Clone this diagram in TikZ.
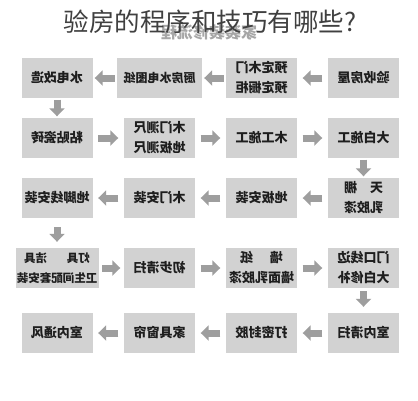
\documentclass[tikz,border=0pt]{standalone}
\usepackage{fontspec}
\setmainfont{Noto Sans CJK SC}
\usetikzlibrary{arrows.meta}
\definecolor{boxgray}{HTML}{D2D2D2}
\definecolor{arrowgray}{HTML}{9E9E9E}
\definecolor{textgray}{HTML}{1E1E1E}
\newcommand{\mir}[1]{\reflectbox{\begin{tabular}{@{}c@{}}#1\end{tabular}}}

\begin{document}
\begin{tikzpicture}[x=1pt,y=-1pt,
  box/.style={fill=boxgray,minimum width=71pt,minimum height=40pt,inner sep=0pt,text=textgray,font=\bfseries\fontsize{13}{20}\selectfont},
  flow/.style={draw=arrowgray,line width=7pt,-{Triangle[width=15pt,length=8pt]},shorten <=5.5pt,shorten >=5.5pt}]
\fill[white](0,0)rectangle(418,400);
\useasboundingbox(0,0)rectangle(418,400);
\node[font=\bfseries\fontsize{16}{16}\selectfont,text=gray!70](mark)at(209,32){\reflectbox{家装装修流程}};
\node[font=\fontsize{25.5}{26}\selectfont,text=black!75](title)at(210,22){验房的程序和技巧有哪些?};
% row 1
\node[box](a1)at(57,78){\mir{水电改造}};
\node[box,minimum width=85pt,font=\bfseries\fontsize{12}{20}\selectfont](a2)at(159.5,78){\mir{厨房水电图纸}};
\node[box](a3)at(261.5,78){\mir{预定木门\\预定橱柜}};
\node[box](a4)at(363.5,78){\mir{验收房屋}};
% row 2
\node[box](b1)at(57,138){\mir{粘贴瓷砖}};
\node[box](b2)at(159.5,138){\mir{木门测尺\\地板测尺}};
\node[box](b3)at(261.5,138){\mir{木工施工}};
\node[box](b4)at(363.5,138){\mir{大白施工}};
% row 3
\node[box](c1)at(57,198){\mir{地脚线安装}};
\node[box](c2)at(159.5,198){\mir{木门安装}};
\node[box](c3)at(261.5,198){\mir{地板安装}};
\node[box](c4)at(363.5,198){\mir{天\hspace{1em}棚\\乳胶漆}};
% row 4
\node[box,minimum width=83pt,font=\bfseries\fontsize{11.5}{20}\selectfont](d1)at(57,268){\mir{灯具\hspace{1.7em}洁具\\卫生间配套安装}};
\node[box](d2)at(159.5,268){\mir{初步清扫}};
\node[box](d3)at(261.5,268){\mir{墙\hspace{1.3em}纸\\墙面乳胶漆}};
\node[box](d4)at(363.5,268){\mir{门口线边\\大白修补}};
% row 5
\node[box](e1)at(57,333){\mir{室内通风}};
\node[box](e2)at(159.5,333){\mir{家具窗帘}};
\node[box](e3)at(261.5,333){\mir{打密封胶}};
\node[box](e4)at(363.5,333){\mir{室内清扫}};
% arrows
\draw[flow](a4)--(a3);
\draw[flow,shorten <=2pt,shorten >=2pt](a3)--(a2);
\draw[flow,shorten <=2pt,shorten >=2pt](a2)--(a1);
\draw[flow,shorten <=1.5pt,shorten >=1.5pt](a1)--(b1);
\draw[flow](b1)--(b2);
\draw[flow](b2)--(b3);
\draw[flow](b3)--(b4);
\draw[flow,shorten <=1.5pt,shorten >=1.5pt](b4)--(c4);
\draw[flow](c4)--(c3);
\draw[flow](c3)--(c2);
\draw[flow](c2)--(c1);
\draw[flow,shorten <=9pt,shorten >=6pt](c1)--(d1);
\draw[flow,shorten <=3.5pt,shorten >=3.5pt](d1)--(d2);
\draw[flow](d2)--(d3);
\draw[flow](d3)--(d4);
\draw[flow,shorten <=3pt,shorten >=6pt](d4)--(e4);
\draw[flow](e4)--(e3);
\draw[flow](e3)--(e2);
\draw[flow](e2)--(e1);
\end{tikzpicture}
\end{document}
